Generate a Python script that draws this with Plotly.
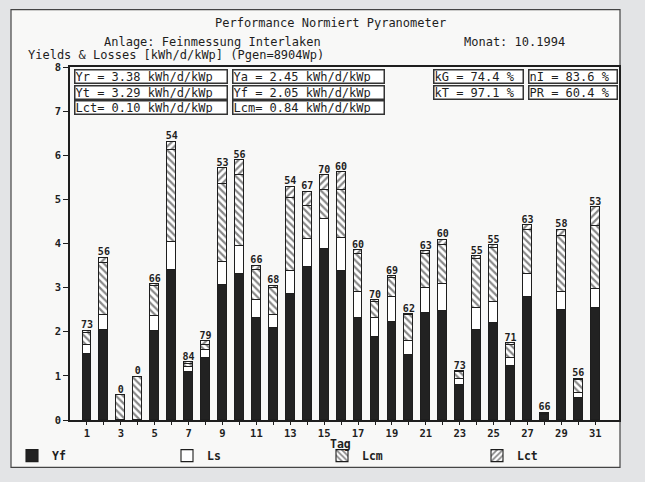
import plotly.graph_objects as go

# ---- daily values, October 1994 (kWh/d/kWp) ----
days = list(range(1, 32))
yf = [1.49, 2.04, 0.00, 0.00, 2.02, 3.41, 1.09, 1.40, 3.05, 3.32, 2.32, 2.08, 2.86, 3.47, 3.87, 3.38,
      2.32, 1.89, 2.23, 1.47, 2.43, 2.47, 0.80, 2.03, 2.20, 1.23, 2.79, 0.11, 2.49, 0.51, 2.54]
ls = [0.22, 0.34, 0.00, 0.00, 0.33, 0.62, 0.11, 0.19, 0.54, 0.63, 0.39, 0.30, 0.52, 0.63, 0.68, 0.74,
      0.57, 0.42, 0.56, 0.33, 0.57, 0.61, 0.13, 0.50, 0.47, 0.18, 0.51, 0.03, 0.42, 0.11, 0.44]
lcm = [0.27, 1.18, 0.56, 0.98, 0.68, 2.09, 0.08, 0.11, 1.76, 1.61, 0.69, 0.61, 1.64, 0.74, 0.66, 1.09,
       0.87, 0.36, 0.42, 0.57, 0.77, 0.89, 0.15, 1.13, 1.23, 0.30, 1.00, 0.03, 1.25, 0.29, 1.41]
lct = [0.04, 0.12, 0.00, 0.00, 0.05, 0.19, 0.03, 0.08, 0.36, 0.33, 0.10, 0.05, 0.27, 0.33, 0.34, 0.40,
       0.09, 0.04, 0.05, 0.03, 0.06, 0.11, 0.02, 0.05, 0.06, 0.03, 0.11, 0.00, 0.15, 0.02, 0.43]
pr_pct = [73, 56, 0, 0, 66, 54, 84, 79, 53, 56, 66, 68, 54, 67, 70, 60,
          60, 70, 69, 62, 63, 60, 73, 55, 55, 71, 63, 66, 58, 56, 53]

# monthly summary boxes: rows of (text, left px, right px)
summary_rows = [
    [("Yr = 3.38 kWh/d/kWp", 73, 228), ("Ya = 2.45 kWh/d/kWp", 231, 385),
     ("kG = 74.4 %", 432, 524), ("nI = 83.6 %", 527, 618)],
    [("Yt = 3.29 kWh/d/kWp", 73, 228), ("Yf = 2.05 kWh/d/kWp", 231, 385),
     ("kT = 97.1 %", 432, 524), ("PR = 60.4 %", 527, 618)],
    [("Lct= 0.10 kWh/d/kWp", 73, 228), ("Lcm= 0.84 kWh/d/kWp", 231, 385)],
]
summary_row_y = [77.0, 92.5, 108.0]

# ---- page geometry (pixels) ----
WIDTH, HEIGHT = 645, 482
L, R, T, B = 70, 619, 67, 424
PW, PH = R - L, B - T

def px_x(p):
    return (p - L) / PW

def px_y(p):
    return (B - p) / PH

FONT = "DejaVu Sans Mono"
INK = "#1e1e1e"
PAPER_IN = "#f8f8f7"
PAPER_OUT = "#e3e4e6"

fig = go.Figure()
edge = dict(color=INK, width=1.1)
hatch = dict(fgcolor="#111111", bgcolor="white", size=5, solidity=0.45)
fig.add_bar(name="Yf", x=days, y=yf, width=0.52,
            marker=dict(color="#222222", line=edge))
fig.add_bar(name="Ls", x=days, y=ls, width=0.52,
            marker=dict(color="white", line=edge))
fig.add_bar(name="Lcm", x=days, y=lcm, width=0.52,
            marker=dict(color="white", line=edge, pattern=dict(shape="\\", **hatch)))
fig.add_bar(name="Lct", x=days, y=lct, width=0.52,
            marker=dict(color="white", line=edge, pattern=dict(shape="/", **hatch)))

# PR labels on top of each stacked bar
tops = [a + b + c + d for a, b, c, d in zip(yf, ls, lcm, lct)]
fig.add_scatter(x=days, y=tops, mode="text", text=[str(v) for v in pr_pct],
                textposition="top center", cliponaxis=False,
                textfont=dict(family=FONT, size=10, color=INK, weight="bold"),
                showlegend=False, hoverinfo="skip")

annotations = []

def add_text(txt, x, y, size=12, bold=False, anchor="left"):
    annotations.append(dict(
        text=txt, x=px_x(x), y=px_y(y), xref="paper", yref="paper",
        xanchor=anchor, yanchor="middle", showarrow=False, borderpad=0,
        font=dict(family=FONT, size=size, color=INK,
                  weight="bold" if bold else "normal")))

add_text("Performance Normiert Pyranometer", 214, 22)
add_text("Anlage: Feinmessung Interlaken", 103, 41.5)
add_text("Monat: 10.1994", 463, 41.5)
add_text("Yields & Losses [kWh/d/kWp] (Pgen=8904Wp)", 27, 55)
add_text("Tag", 329, 448, size=11.5, bold=True)

for row, cy in zip(summary_rows, summary_row_y):
    for txt, x0, x1 in row:
        annotations.append(dict(
            text=txt, x=px_x((x0 + x1) / 2), y=px_y(cy), xref="paper", yref="paper",
            xanchor="center", yanchor="middle", showarrow=False, align="left",
            valign="middle", width=x1 - x0 - 4, height=12, borderpad=0,
            bordercolor="#333333", borderwidth=1.5, bgcolor="white",
            font=dict(family=FONT, size=12, color=INK)))

shapes = [dict(type="rect", xref="paper", yref="paper", layer="below",
               x0=px_x(11), x1=px_x(620), y0=px_y(9), y1=px_y(472),
               fillcolor=PAPER_IN, line=dict(color="#444444", width=1.2))]

fig.update_layout(
    width=WIDTH, height=HEIGHT, autosize=False,
    margin=dict(l=L, r=WIDTH - R, t=T, b=HEIGHT - B, pad=0),
    barmode="stack", bargap=0,
    paper_bgcolor=PAPER_OUT, plot_bgcolor=PAPER_IN,
    font=dict(family=FONT, color=INK),
    annotations=annotations, shapes=shapes,
    xaxis=dict(range=[0, 32.4], tickvals=days,
               ticktext=[str(d) if d % 2 else "" for d in days],
               ticks="outside", ticklen=3, tickcolor=INK,
               showline=True, linecolor=INK, linewidth=1.5, mirror=True,
               showgrid=False, zeroline=False,
               tickfont=dict(family=FONT, size=10.5, color=INK, weight="bold")),
    yaxis=dict(range=[0, 8], dtick=1, ticks="outside", ticklen=5, tickcolor=INK,
               showline=True, linecolor=INK, linewidth=1.5, mirror=True,
               showgrid=False, zeroline=False,
               tickfont=dict(family=FONT, size=10.5, color=INK, weight="bold")),
    legend=dict(orientation="h", x=px_x(12), y=px_y(460), xanchor="left", yanchor="middle",
                entrywidth=110, entrywidthmode="pixels", traceorder="normal",
                bgcolor="rgba(0,0,0,0)", itemclick=False,
                font=dict(family=FONT, size=11.5, color=INK, weight="bold")),
    showlegend=True,
)

fig.write_html("out.html")
